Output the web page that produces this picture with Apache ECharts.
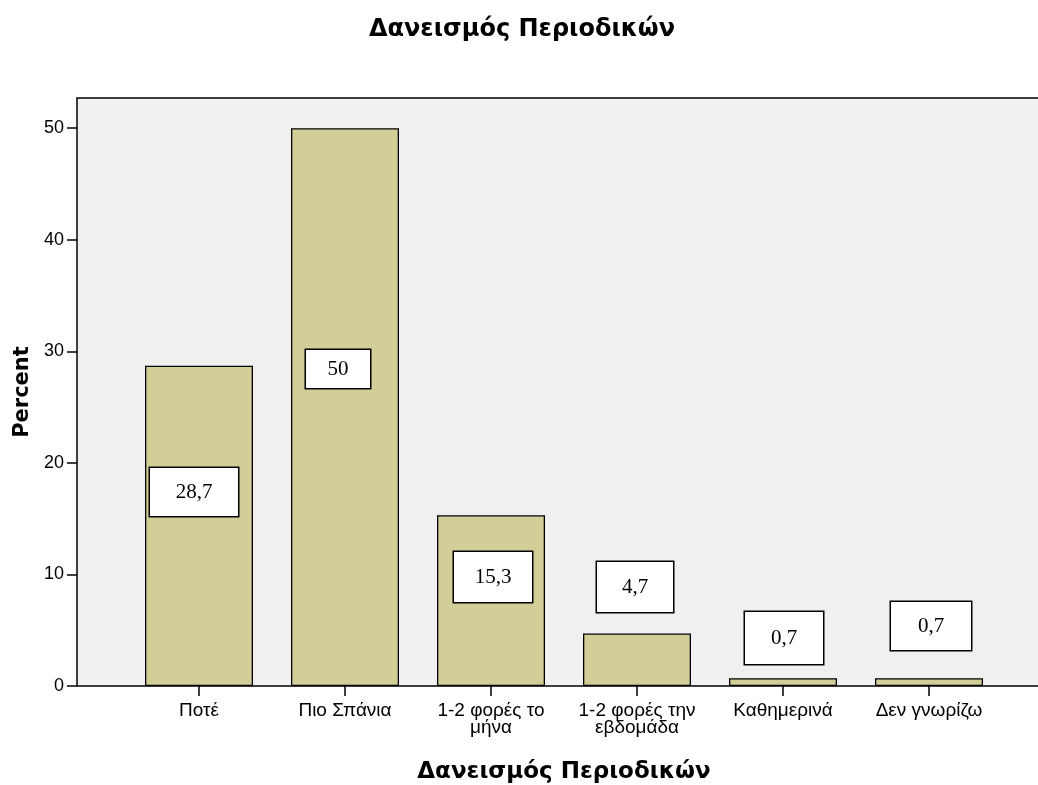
<!DOCTYPE html>
<html>
<head>
<meta charset="utf-8">
<script src="https://cdn.jsdelivr.net/npm/echarts@6/dist/echarts.min.js"></script>
<style>
  html, body { margin: 0; padding: 0; background: #fff; }
  #chart { width: 1038px; height: 785px; }
</style>
</head>
<body>
<div id="chart"></div>
<script>
// data
const categories = ['Ποτέ', 'Πιο Σπάνια', '1-2 φορές το\nμήνα', '1-2 φορές την\nεβδομάδα', 'Καθημερινά', 'Δεν γνωρίζω'];
const percents = [28.7, 50, 15.3, 4.7, 0.7, 0.7];
const yTicks = [0, 10, 20, 30, 40, 50];

// label boxes (SPSS puts them in odd places): [dx, lift above baseline, w, h]
const boxStyle = [
  [-5, 170, 88, 48],
  [-7, 298, 64, 38],
  [2, 84, 78, 50],
  [-2, 74, 76, 50],
  [1, 22, 78, 52],
  [2, 36, 80, 48]
];

const font = '"Liberation Sans", Arial, sans-serif';
const boldFont = '"DejaVu Sans", Verdana, sans-serif';
const chart = echarts.init(document.getElementById('chart'));

const option = {
  backgroundColor: '#fff',
  animation: false,
  title: {
    text: 'Δανεισμός Περιοδικών',
    left: 517, top: 13, textAlign: 'center',
    textStyle: { fontFamily: boldFont, fontSize: 24, fontWeight: 'bold', color: '#000' }
  },
  grid: [
    // frame
    { left: 77, top: 98, right: -30, bottom: 99, show: true, outerBoundsMode: 'none',
      backgroundColor: '#f0f0f0', borderColor: '#000', borderWidth: 1.5 },
    // bars
    { left: 126, top: 98, right: 36, bottom: 99, outerBoundsMode: 'none' }
  ],
  xAxis: [
    { gridIndex: 0, type: 'value', show: false },
    {
      gridIndex: 1, type: 'category', data: categories,
      axisLine: { show: false },
      axisTick: { show: true, alignWithLabel: true, length: 10, lineStyle: { color: '#000', width: 1.5 } },
      axisLabel: { fontFamily: font, fontSize: 19, color: '#000', margin: 16, lineHeight: 17, interval: 0 },
      name: 'Δανεισμός Περιοδικών', nameLocation: 'middle', nameGap: 75,
      nameTextStyle: { fontFamily: boldFont, fontSize: 23, fontWeight: 'bold', color: '#000' }
    }
  ],
  yAxis: [
    {
      gridIndex: 0, type: 'value', min: 0, max: 52.7,
      axisLine: { show: false },
      splitLine: { show: false },
      axisTick: { show: true, length: 10, customValues: yTicks, lineStyle: { color: '#000', width: 1.5 } },
      axisLabel: { fontFamily: font, fontSize: 18, color: '#000', margin: 13, customValues: yTicks },
      name: 'Percent', nameLocation: 'middle', nameGap: 43, nameRotate: 90,
      nameTextStyle: { fontFamily: boldFont, fontSize: 21, fontWeight: 'bold', color: '#000' }
    },
    { gridIndex: 1, type: 'value', min: 0, max: 52.7, show: false }
  ],
  series: [{
    type: 'bar',
    xAxisIndex: 1, yAxisIndex: 1,
    barWidth: 108,
    itemStyle: { color: '#d3ce97', borderColor: '#000', borderWidth: 1.3 },
    data: percents.map((v, i) => {
      const [dx, lift, w, h] = boxStyle[i];
      return {
        value: v,
        label: {
          show: true,
          position: 'insideBottom',
          distance: 0,
          offset: [dx, -lift],
          width: w, height: h, lineHeight: h,
          align: 'center', verticalAlign: 'bottom',
          backgroundColor: '#fff', borderColor: '#000', borderWidth: 1.5,
          fontFamily: '"Liberation Serif", "Times New Roman", serif',
          fontSize: 21, color: '#000',
          formatter: p => String(p.value).replace('.', ',')
        }
      };
    })
  }]
};

chart.setOption(option);
</script>
</body>
</html>
